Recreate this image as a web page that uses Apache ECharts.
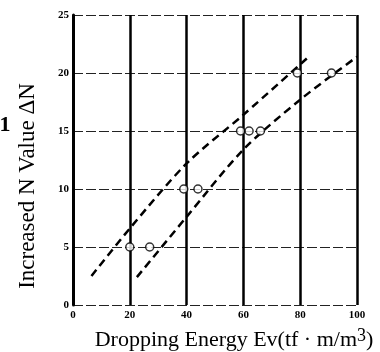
<!DOCTYPE html>
<html>
<head>
<meta charset="utf-8">
<script src="https://cdn.jsdelivr.net/npm/echarts@6/dist/echarts.min.js"></script>
<style>
  html, body { margin: 0; padding: 0; background: #fff; }
  #chart { width: 380px; height: 352px; }
</style>
</head>
<body>
<div id="chart"></div>
<script>
// measured points (open circles)
const pointEv = [20, 27, 39, 44, 59, 62, 66, 79, 91]
const pointDN = [5, 5, 10, 10, 15, 15, 15, 20, 20]

// upper / lower dashed bounds
const upperEv = [6.5, 20, 40, 60, 83]
const upperDN = [2.5, 6.6, 12.2, 16.4, 21.4]
const lowerEv = [22.5, 40, 60, 80, 100]
const lowerDN = [2.4, 7.6, 13.4, 17.7, 21.4]

const xTicks = [0, 20, 40, 60, 80, 100]
const yTicks = [0, 5, 10, 15, 20, 25]

const serif = '"Liberation Serif", "DejaVu Serif", serif'

const zip = (xs, ys) => xs.map((x, i) => [x, ys[i]])

const chart = echarts.init(document.getElementById('chart'))

const option = {
    animation: false,
    grid: { left: 73, right: 23, top: 15, bottom: 47 },
    xAxis: {
        type: 'value',
        min: 0,
        max: 100,
        interval: 20,
        axisLine: { show: false },
        axisTick: { show: false },
        axisLabel: {
            margin: 5,
            color: '#000',
            fontFamily: serif,
            fontWeight: 'bold',
            fontSize: 11,
            formatter: v => xTicks.includes(v) ? String(v) : ''
        },
        splitLine: {
            show: true,
            lineStyle: { color: '#000', width: 2.5, type: 'solid' }
        }
    },
    yAxis: {
        type: 'value',
        min: 0,
        max: 25,
        interval: 5,
        axisLine: { show: true, onZero: false, lineStyle: { color: '#000', width: 3 } },
        axisTick: { show: false },
        axisLabel: {
            margin: 4,
            color: '#000',
            fontFamily: serif,
            fontWeight: 'bold',
            fontSize: 11,
            formatter: v => yTicks.includes(v) ? String(v) : ''
        },
        splitLine: {
            show: true,
            lineStyle: { color: '#222', width: 1.2, type: [10, 3] }
        }
    },
    graphic: [
        {
            type: 'text',
            x: 28,
            y: 186,
            rotation: Math.PI / 2,
            style: {
                text: 'Increased N Value \u0394N',
                font: '23px ' + serif,
                fill: '#000',
                align: 'center',
                verticalAlign: 'middle'
            }
        },
        {
            type: 'text',
            x: 234,
            y: 340,
            style: {
                text: 'Dropping Energy Ev(tf \u00b7 m/m{sup|3})',
                font: '22px ' + serif,
                fill: '#000',
                align: 'center',
                verticalAlign: 'middle',
                rich: {
                    sup: { fontSize: 18, fontFamily: serif, verticalAlign: 'top', padding: [0, 0, 8, 0] }
                }
            }
        },
        {
            type: 'text',
            x: 5,
            y: 125,
            style: {
                text: '1',
                font: 'bold 22px ' + serif,
                fill: '#000',
                align: 'center',
                verticalAlign: 'middle'
            }
        }
    ],
    series: [
        {
            type: 'line',
            data: zip(upperEv, upperDN),
            smooth: 0.3,
            symbol: 'none',
            lineStyle: { color: '#000', width: 2.5, type: [8, 5] },
            z: 3
        },
        {
            type: 'line',
            data: zip(lowerEv, lowerDN),
            smooth: 0.3,
            symbol: 'none',
            lineStyle: { color: '#000', width: 2.5, type: [8, 5] },
            z: 3
        },
        {
            type: 'scatter',
            data: zip(pointEv, pointDN),
            symbol: 'circle',
            symbolSize: 8,
            itemStyle: { color: '#fff', borderColor: '#000', borderWidth: 1.5 },
            z: 4
        }
    ]
}

chart.setOption(option)
</script>
</body>
</html>
